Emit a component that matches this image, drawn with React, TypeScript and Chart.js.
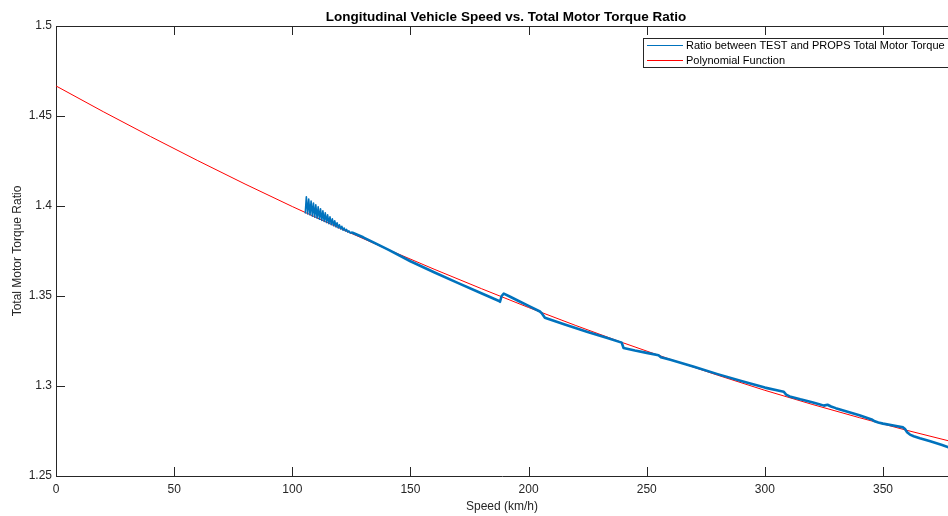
import React, { useEffect, useRef } from 'react';
import { Chart, registerables } from 'chart.js';

Chart.register(...registerables);

// ---- Data ----
const polySpeed = [0, 20, 40, 60, 80, 100, 120, 140, 160, 180, 200, 220, 240, 260, 280, 300, 320, 340, 360, 380, 390];
const polyRatio = [1.4667, 1.4524, 1.4386, 1.4252, 1.4122, 1.3997, 1.3877, 1.3761, 1.3649, 1.3541, 1.3436, 1.3336, 1.3240, 1.3148, 1.3060, 1.2976, 1.2898, 1.2824, 1.2754, 1.2688, 1.2656];

const testSpeed = [
  105.5, 105.95, 106.5, 106.95, 107.5, 107.95, 108.5, 108.95, 109.5, 109.95,
  110.5, 110.95, 111.5, 111.95, 112.5, 112.95, 113.5, 113.95, 114.5, 114.95,
  115.5, 115.95, 116.5, 116.95, 117.5, 117.95, 118.5, 118.95, 119.5, 119.95,
  120.5, 120.95, 121.5, 121.95, 122.5, 122.95, 123.5, 123.95, 124.5, 124.95,
  125.5, 130, 135, 141, 150, 160, 170, 180, 187.5, 187.9,
  188.6, 189.5, 192, 196, 200, 204.8, 205.5, 206.9, 215, 225,
  233, 239.4, 240.2, 245, 250, 255, 256, 260, 265, 270,
  280, 290, 300, 307, 308, 309, 310.5, 315, 320, 323,
  325, 326.5, 328, 330, 335, 340, 345.5, 346.5, 348, 350,
  355, 358.5, 359.3, 360.2, 361.4, 363, 365.6, 370, 375, 378,
];
const testRatio = [
  1.3962, 1.4051, 1.3956, 1.4039, 1.3950, 1.4028, 1.3944, 1.4017, 1.3938, 1.4006,
  1.3932, 1.3995, 1.3926, 1.3984, 1.3920, 1.3973, 1.3914, 1.3962, 1.3908, 1.3951,
  1.3902, 1.3940, 1.3896, 1.3929, 1.3890, 1.3918, 1.3884, 1.3907, 1.3878, 1.3896,
  1.3872, 1.3887, 1.3866, 1.3878, 1.3861, 1.3870, 1.3855, 1.3862, 1.3849, 1.3855,
  1.3851, 1.3826, 1.3794, 1.3755, 1.3693, 1.3632, 1.3573, 1.3515, 1.3472, 1.3468,
  1.3500, 1.3513, 1.3497, 1.3471, 1.3445, 1.3414, 1.3405, 1.3379, 1.3343, 1.3300,
  1.3268, 1.3241, 1.3211, 1.3197, 1.3184, 1.3171, 1.3160, 1.3146, 1.3127, 1.3107,
  1.3066, 1.3028, 1.2991, 1.2971, 1.2968, 1.2952, 1.2942, 1.2926, 1.2910, 1.2899,
  1.2891, 1.2896, 1.2886, 1.2877, 1.2857, 1.2837, 1.2812, 1.2804, 1.2797, 1.2791,
  1.2779, 1.2770, 1.2761, 1.2743, 1.2730, 1.2721, 1.2710, 1.2693, 1.2672, 1.2658,
];

const xTickValues = [0, 50, 100, 150, 200, 250, 300, 350];
const yTickValues = [1.25, 1.3, 1.35, 1.4, 1.45, 1.5];

const titleText = 'Longitudinal Vehicle Speed vs. Total Motor Torque Ratio';
const xLabel = 'Speed (km/h)';
const yLabel = 'Total Motor Torque Ratio';
const seriesNames = ['Ratio between TEST and PROPS Total Motor Torque', 'Polynomial Function'];

const FONT = '"Liberation Sans", Arial, Helvetica, sans-serif';
const AXIS = '#262626';
const BLUE = '#0072BD';
const RED = '#FF0000';

const decorPlugin = {
  id: 'matlabDecor',
  afterDraw(chart: any) {
    const { ctx, chartArea: a, scales } = chart;
    const xs = scales.x;
    const ys = scales.y;
    ctx.save();
    ctx.strokeStyle = AXIS;
    ctx.lineWidth = 1;
    // top box edge
    ctx.beginPath();
    ctx.moveTo(a.left, a.top + 0.5);
    ctx.lineTo(a.right, a.top + 0.5);
    ctx.stroke();
    // inward tick marks
    const tl = 9;
    ctx.beginPath();
    xs.ticks.forEach((t: any) => {
      const px = Math.round(xs.getPixelForValue(t.value)) + 0.5;
      ctx.moveTo(px, a.bottom);
      ctx.lineTo(px, a.bottom - tl);
      ctx.moveTo(px, a.top);
      ctx.lineTo(px, a.top + tl);
    });
    ys.ticks.forEach((t: any) => {
      const py = Math.round(ys.getPixelForValue(t.value)) + 0.5;
      ctx.moveTo(a.left, py);
      ctx.lineTo(a.left + tl, py);
    });
    ctx.stroke();

    // title
    ctx.fillStyle = '#000';
    ctx.font = `bold 13.5px ${FONT}`;
    ctx.textAlign = 'center';
    ctx.textBaseline = 'middle';
    ctx.fillText(titleText, 506, 17);

    // legend (inside axes, top right)
    const lx = 643.5;
    const ly = 38.5;
    ctx.fillStyle = '#fff';
    ctx.fillRect(lx, ly, 330, 29);
    ctx.strokeStyle = AXIS;
    ctx.lineWidth = 1;
    ctx.strokeRect(lx, ly, 330, 29);
    const rows = [
      { color: BLUE, text: seriesNames[0], y: 45.5 },
      { color: RED, text: seriesNames[1], y: 60.5 },
    ];
    ctx.font = `11px ${FONT}`;
    ctx.textAlign = 'left';
    rows.forEach((r) => {
      ctx.strokeStyle = r.color;
      ctx.lineWidth = 1.2;
      ctx.beginPath();
      ctx.moveTo(647, r.y);
      ctx.lineTo(683, r.y);
      ctx.stroke();
      ctx.fillStyle = '#000';
      ctx.fillText(r.text, 686, r.y);
    });
    ctx.restore();
  },
};

export default function App() {
  const canvasRef = useRef<HTMLCanvasElement | null>(null);

  useEffect(() => {
    const canvas = canvasRef.current;
    if (!canvas) return;
    const chart = new Chart(canvas, {
      type: 'line',
      data: {
        datasets: [
          {
            label: seriesNames[0],
            data: testSpeed.map((x, i) => ({ x, y: testRatio[i] })),
            borderColor: BLUE,
            backgroundColor: BLUE,
            borderWidth: 2.6,
            borderJoinStyle: 'round',
            borderCapStyle: 'round',
            pointRadius: 0,
            tension: 0,
            segment: {
              borderWidth: (c: any) => (c.p0.parsed.x < 125 ? 1.6 : 2.6),
            },
          } as any,
          {
            label: seriesNames[1],
            data: polySpeed.map((x, i) => ({ x, y: polyRatio[i] })),
            borderColor: RED,
            backgroundColor: RED,
            borderWidth: 1,
            pointRadius: 0,
            tension: 0,
          },
        ],
      },
      options: {
        responsive: false,
        animation: false,
        events: [],
        layout: { padding: { left: 0, right: 0, top: 26, bottom: 0 } },
        plugins: {
          legend: { display: false },
          title: { display: false },
          tooltip: { enabled: false },
        },
        scales: {
          x: {
            type: 'linear',
            min: 0,
            max: 377.5,
            afterFit: (s: any) => {
              s.height = 40;
            },
            afterBuildTicks: (s: any) => {
              s.ticks = xTickValues.map((v) => ({ value: v }));
            },
            grid: { display: true, drawOnChartArea: false, drawTicks: false },
            border: { display: true, color: AXIS, width: 1 },
            ticks: {
              padding: 6,
              color: AXIS,
              font: { family: FONT, size: 12 },
              maxRotation: 0,
              callback: (v: any) => String(v),
            },
            title: {
              display: true,
              text: xLabel,
              color: AXIS,
              font: { family: FONT, size: 12 },
              padding: { top: 0, bottom: 2 },
            },
          },
          y: {
            type: 'linear',
            min: 1.25,
            max: 1.5,
            afterFit: (s: any) => {
              s.width = 56;
            },
            afterBuildTicks: (s: any) => {
              s.ticks = yTickValues.map((v) => ({ value: v }));
            },
            grid: { display: true, drawOnChartArea: false, drawTicks: false },
            border: { display: true, color: AXIS, width: 1 },
            ticks: {
              padding: 4,
              color: AXIS,
              font: { family: FONT, size: 12 },
              callback: (v: any) => String(Number(Number(v).toFixed(2))),
            },
            title: {
              display: true,
              text: yLabel,
              color: AXIS,
              font: { family: FONT, size: 12 },
              padding: { top: 10, bottom: 0 },
            },
          },
        },
      },
      plugins: [decorPlugin],
    });
    return () => chart.destroy();
  }, []);

  return (
    <div style={{ position: 'fixed', left: 0, top: 0, width: 948, height: 516, background: '#fff' }}>
      <canvas ref={canvasRef} width={948} height={516} style={{ display: 'block' }} />
    </div>
  );
}
